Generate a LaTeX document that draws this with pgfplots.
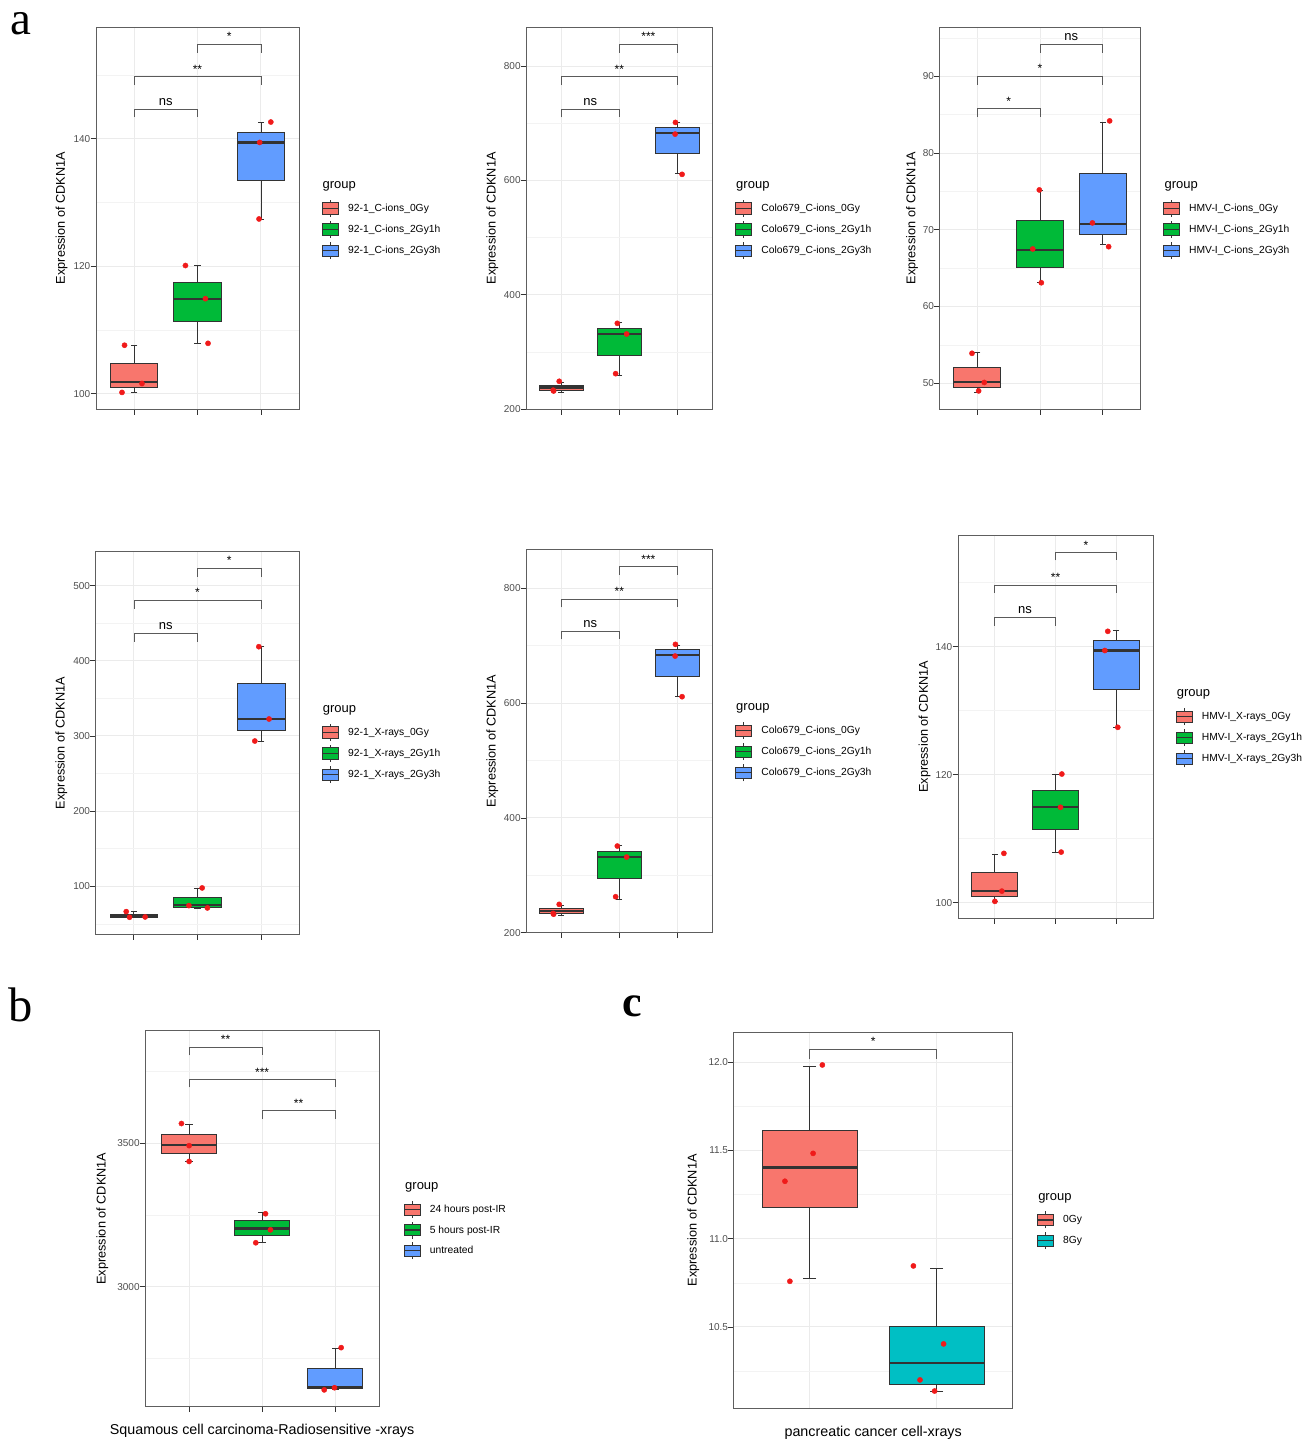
\documentclass[border=0pt]{standalone}
\usepackage{fontspec}
\setmainfont{Liberation Sans}
\newfontfamily\seriffont{Liberation Serif}
\usepackage{pgfplots}
\pgfplotsset{compat=1.18}

\definecolor{cR}{HTML}{F8766D}
\definecolor{cG}{HTML}{00BA38}
\definecolor{cB}{HTML}{619CFF}
\definecolor{cC}{HTML}{00BFC4}
\definecolor{boxline}{HTML}{333333}
\definecolor{ptred}{HTML}{F01A1A}
\definecolor{gridmaj}{HTML}{EBEBEB}
\definecolor{gridmin}{HTML}{F3F3F3}
\definecolor{framec}{HTML}{5E5E5E}
\definecolor{ticklab}{HTML}{4D4D4D}
\definecolor{brkc}{HTML}{5A5A5A}

\newcommand{\legcode}[1]{%
   \draw[boxline,line width=0.8pt] (8pt,-8.5pt)--(8pt,8.5pt);
   \draw[boxline,line width=0.8pt,fill=#1] (0pt,-5.6pt) rectangle (16pt,5.6pt);
   \draw[boxline,line width=1.3pt] (0pt,0pt)--(16pt,0pt);}

\pgfplotsset{
 legR/.style={legend image code/.code={\legcode{cR}}},
 legG/.style={legend image code/.code={\legcode{cG}}},
 legB/.style={legend image code/.code={\legcode{cB}}},
 legC/.style={legend image code/.code={\legcode{cC}}},
 ggbox/.style={
   scale only axis, clip=false, anchor=south west,
   axis line style={draw=framec, line width=0.9pt},
   xmin=0.4, xmax=3.6, xtick={1,2,3}, xticklabels={},
   xmajorgrids, ymajorgrids, yminorgrids,
   major grid style={draw=gridmaj, line width=1pt},
   minor grid style={draw=gridmin, line width=0.6pt},
   tick align=outside, tick pos=left,
   major tick length=5.5pt, minor tick length=0pt,
   tick style={draw=boxline, line width=0.8pt},
   /pgf/number format/assume math mode=true,
   /pgf/number format/1000 sep={},
   yticklabel style={font=\fontsize{10}{12}\selectfont, text=ticklab, anchor=east, inner sep=0pt},
   ylabel={Expression of CDKN1A},
   ylabel style={font=\fontsize{12.7}{14}\selectfont, anchor=center},
   xlabel style={font=\fontsize{14.3}{16}\selectfont, anchor=center},
   legend cell align=left,
   legend style={draw=none, fill=none, font=\fontsize{10.3}{12}\selectfont,
      anchor=north west, row sep=3.3pt, inner sep=0pt,
      nodes={inner sep=0pt},
      /tikz/every odd column/.style={column sep=9pt}},
 },
}

% #1 left, #2 centre, #3 right, #4 lower whisker, #5 Q1, #6 median, #7 Q3, #8 upper whisker, #9 fill
\newcommand{\gbox}[9]{%
 \addplot[forget plot, draw=boxline, line width=0.8pt] coordinates {(#2,#4)(#2,#5)};
 \addplot[forget plot, draw=boxline, line width=0.8pt] coordinates {(#2,#7)(#2,#8)};
 \addplot[forget plot, only marks, mark=-, mark size=\capsz, mark options={draw=boxline, line width=0.8pt}] coordinates {(#2,#4)(#2,#8)};
 \addplot[forget plot, draw=boxline, fill=#9, line width=0.8pt] coordinates {(#1,#5)(#3,#5)(#3,#7)(#1,#7)} -- cycle;
 \addplot[forget plot, draw=boxline, line width=2.3pt] coordinates {(#1,#6)(#3,#6)};}
\newcommand{\sig}[6]{%
 \addplot[forget plot, draw=brkc, line width=0.75pt] coordinates {(#1,#4)(#1,#5)(#2,#5)(#2,#4)};
 \node[anchor=base, font=\fontsize{12}{12}\selectfont, yshift=3.5pt] at (axis cs:#3,#5) {#6};}
\newcommand{\grp}[2]{\node[anchor=west, font=\fontsize{13}{13}\selectfont] at (axis description cs:#1,#2) {group};}
\newcommand{\pts}[1]{\addplot[forget plot, only marks, mark=*, mark size=2.6pt, color=ptred, mark options={draw=ptred, fill=ptred}] coordinates {#1};}
\newcommand{\ns}{\fontsize{13}{13}\selectfont ns}

\begin{document}
\begin{tikzpicture}
\path[use as bounding box] (0,0) rectangle (1315pt,-1441pt);

% ---------- panel 1 ----------
\def\capsz{3.2pt}
\begin{axis}[ggbox, at={(96pt,-409pt)}, width=203pt, height=382pt,
  ymin=97.6, ymax=157.5, ytick={100,120,140}, minor ytick={110,130,150},
  ylabel style={at={(axis description cs:-0.169,0.5)}},
  legend style={at={(axis description cs:1.1118,0.5492)}}]
\gbox{0.625}{1}{1.375}{100.2}{101.0}{101.8}{104.7}{107.6}{cR}
\gbox{1.625}{2}{2.375}{107.9}{111.4}{114.9}{117.5}{120.1}{cG}
\gbox{2.625}{3}{3.375}{127.4}{133.4}{139.4}{140.9}{142.5}{cB}
\pts{(0.81,100.2) (0.85,107.6) (1.125,101.6) (1.81,120.1) (2.125,114.9) (2.166,107.9) (3.156,142.6) (2.98,139.4) (2.97,127.4)}
\sig{1}{2}{1.5}{143.36}{144.66}{\ns}
\sig{1}{3}{2}{148.4}{149.7}{**}
\sig{2}{3}{2.5}{153.5}{154.8}{*}
\grp{1.0985}{0.5838}
\addlegendimage{legR}\addlegendentry{92-1\_C-ions\_0Gy}
\addlegendimage{legG}\addlegendentry{92-1\_C-ions\_2Gy1h}
\addlegendimage{legB}\addlegendentry{92-1\_C-ions\_2Gy3h}
\end{axis}

% ---------- panel 2 ----------
\def\capsz{2.9pt}
\begin{axis}[ggbox, at={(526.3pt,-409.3pt)}, width=186pt, height=382pt,
  ymin=200, ymax=867.7, ytick={200,400,600,800}, minor ytick={300,500,700},
  ylabel style={at={(axis description cs:-0.183,0.5)}},
  legend style={at={(axis description cs:1.122,0.550)}}]
\gbox{0.625}{1}{1.375}{229.7}{233.8}{237.9}{242.5}{246.8}{cR}
\gbox{1.625}{2}{2.375}{258.8}{295}{331.6}{341.5}{352}{cG}
\gbox{2.625}{3}{3.375}{611.8}{647.4}{683.5}{692.8}{701}{cB}
\pts{(0.966,249.0) (0.863,233.5) (0.87,232.0) (1.966,350.3) (2.126,331.6) (1.937,262.3) (2.966,701.5) (2.96,681) (3.08,610.7)}
\sig{1}{2}{1.5}{710.3}{724.8}{\ns}
\sig{1}{3}{2}{766.8}{781.3}{**}
\sig{2}{3}{2.5}{823.3}{837.8}{***}
\grp{1.1097}{0.5846}
\addlegendimage{legR}\addlegendentry{Colo679\_C-ions\_0Gy}
\addlegendimage{legG}\addlegendentry{Colo679\_C-ions\_2Gy1h}
\addlegendimage{legB}\addlegendentry{Colo679\_C-ions\_2Gy3h}
\end{axis}

% ---------- panel 3 ----------
\def\capsz{3.15pt}
\begin{axis}[ggbox, at={(939.7pt,-409.3pt)}, width=200.6pt, height=382pt,
  ymin=46.6, ymax=96.4, ytick={50,60,70,80,90}, minor ytick={55,65,75,85,95},
  ylabel style={at={(axis description cs:-0.138,0.5)}},
  legend style={at={(axis description cs:1.1117,0.550)}}]
\gbox{0.625}{1}{1.375}{48.83}{49.43}{50.17}{52.04}{54.04}{cR}
\gbox{1.625}{2}{2.375}{63.13}{65.13}{67.35}{71.26}{75.2}{cG}
\gbox{2.625}{3}{3.375}{68.13}{69.39}{70.74}{77.35}{84.0}{cB}
\pts{(0.915,53.9) (1.111,50.1) (1.021,49.0) (1.989,75.2) (1.884,67.5) (2.021,63.1) (3.111,84.2) (2.836,70.9) (3.095,67.8)}
\sig{1}{2}{1.5}{84.7}{85.78}{*}
\sig{1}{3}{2}{88.9}{90.0}{*}
\sig{2}{3}{2.5}{93.1}{94.2}{\ns}
\grp{1.1032}{0.5846}
\addlegendimage{legR}\addlegendentry{HMV-I\_C-ions\_0Gy}
\addlegendimage{legG}\addlegendentry{HMV-I\_C-ions\_2Gy1h}
\addlegendimage{legB}\addlegendentry{HMV-I\_C-ions\_2Gy3h}
\end{axis}

% ---------- panel 4 ----------
\def\capsz{3.2pt}
\begin{axis}[ggbox, at={(95.7pt,-934.3pt)}, width=203.6pt, height=382.6pt,
  ymin=36.1, ymax=545.2, ytick={100,200,300,400,500}, minor ytick={50,150,250,350,450},
  ylabel style={at={(axis description cs:-0.169,0.5)}},
  legend style={at={(axis description cs:1.110,0.5517)}}]
\gbox{0.625}{1}{1.375}{58.3}{59.2}{61.0}{63.2}{66.3}{cR}
\gbox{1.625}{2}{2.375}{70.7}{72.5}{75.2}{85.8}{97.8}{cG}
\gbox{2.625}{3}{3.375}{293.3}{308}{322.6}{370.5}{418.8}{cB}
\pts{(0.88,66.3) (0.932,58.8) (1.177,59.2) (2.073,97.8) (1.865,74.3) (2.156,71.2) (2.964,418.8) (3.125,322.6) (2.901,293.3)}
\sig{1}{2}{1.5}{425.5}{436.6}{\ns}
\sig{1}{3}{2}{469.4}{480.5}{*}
\sig{2}{3}{2.5}{512}{523.1}{*}
\grp{1.0982}{0.5855}
\addlegendimage{legR}\addlegendentry{92-1\_X-rays\_0Gy}
\addlegendimage{legG}\addlegendentry{92-1\_X-rays\_2Gy1h}
\addlegendimage{legB}\addlegendentry{92-1\_X-rays\_2Gy3h}
\end{axis}

% ---------- panel 5 ----------
\def\capsz{2.9pt}
\begin{axis}[ggbox, at={(526.3pt,-932.7pt)}, width=186pt, height=383.4pt,
  ymin=200, ymax=868, ytick={200,400,600,800}, minor ytick={300,500,700},
  ylabel style={at={(axis description cs:-0.183,0.5)}},
  legend style={at={(axis description cs:1.122,0.5509)}}]
\gbox{0.625}{1}{1.375}{229.7}{233.8}{237.9}{242.5}{246.8}{cR}
\gbox{1.625}{2}{2.375}{258.8}{295}{331.6}{341.5}{352}{cG}
\gbox{2.625}{3}{3.375}{611.8}{647.4}{683.5}{692.8}{701}{cB}
\pts{(0.966,249.4) (0.863,233.7) (0.87,232.2) (1.966,351) (2.126,331.8) (1.937,262.7) (2.966,702.4) (2.96,682) (3.08,611.2)}
\sig{1}{2}{1.5}{711.1}{725.6}{\ns}
\sig{1}{3}{2}{766.9}{781.4}{**}
\sig{2}{3}{2.5}{823.2}{837.7}{***}
\grp{1.1097}{0.5842}
\addlegendimage{legR}\addlegendentry{Colo679\_C-ions\_0Gy}
\addlegendimage{legG}\addlegendentry{Colo679\_C-ions\_2Gy1h}
\addlegendimage{legB}\addlegendentry{Colo679\_C-ions\_2Gy3h}
\end{axis}

% ---------- panel 6 ----------
\def\capsz{3.05pt}
\begin{axis}[ggbox, at={(958pt,-918.3pt)}, width=195pt, height=383.3pt,
  ymin=97.55, ymax=157.45, ytick={100,120,140}, minor ytick={110,130,150},
  ylabel style={at={(axis description cs:-0.171,0.5)}},
  legend style={at={(axis description cs:1.1144,0.55)}}]
\gbox{0.625}{1}{1.375}{100.2}{101.0}{101.8}{104.7}{107.6}{cR}
\gbox{1.625}{2}{2.375}{107.9}{111.4}{114.9}{117.5}{120.1}{cG}
\gbox{2.625}{3}{3.375}{127.4}{133.4}{139.4}{141.0}{142.5}{cB}
\pts{(1.153,107.7) (1.12,101.8) (1.005,100.2) (2.104,120.1) (2.082,114.9) (2.093,107.9) (2.858,142.4) (2.809,139.4) (3.022,127.4)}
\sig{1}{2}{1.5}{143.3}{144.6}{\ns}
\sig{1}{3}{2}{148.4}{149.6}{**}
\sig{2}{3}{2.5}{153.5}{154.7}{*}
\grp{1.104}{0.5844}
\addlegendimage{legR}\addlegendentry{HMV-I\_X-rays\_0Gy}
\addlegendimage{legG}\addlegendentry{HMV-I\_X-rays\_2Gy1h}
\addlegendimage{legB}\addlegendentry{HMV-I\_X-rays\_2Gy3h}
\end{axis}

% ---------- panel b ----------
\def\capsz{3.65pt}
\begin{axis}[ggbox, at={(145.3pt,-1406.7pt)}, width=233.7pt, height=376pt,
  ymin=2582.4, ymax=3891, ytick={3000,3500}, minor ytick={2750,3250,3750},
  ylabel style={at={(axis description cs:-0.184,0.5)}},
  xlabel={Squamous cell carcinoma-Radiosensitive -xrays},
  xlabel style={at={(axis description cs:0.5,-0.0638)}},
  legend style={at={(axis description cs:1.104,0.5484)}, row sep=2.65pt}]
\gbox{0.625}{1}{1.375}{3436}{3464}{3493}{3529}{3565}{cR}
\gbox{1.625}{2}{2.375}{3153}{3177.5}{3203}{3229.7}{3257.5}{cG}
\gbox{2.625}{3}{3.375}{2643}{2646}{2651}{2717}{2784}{cB}
\pts{(0.895,3568) (1.0,3491) (1.0,3436) (2.046,3254) (2.114,3198) (1.913,3153) (3.082,2788) (2.991,2648.5) (2.85,2641)}
\sig{1}{2}{1.5}{3805}{3833}{**}
\sig{1}{3}{2}{3694}{3720}{***}
\sig{2}{3}{2.5}{3583.5}{3612.5}{**}
\grp{1.097}{0.5835}
\addlegendimage{legR}\addlegendentry{24 hours post-IR}
\addlegendimage{legG}\addlegendentry{5 hours post-IR}
\addlegendimage{legB}\addlegendentry{untreated}
\end{axis}

% ---------- panel c ----------
\def\capsz{6.4pt}
\begin{axis}[ggbox, at={(733.7pt,-1408.3pt)}, width=279pt, height=376pt,
  xmin=0.4, xmax=2.6, xtick={1,2}, xtick style={draw=none},
  ymin=10.039, ymax=12.17, ytick={10.5,11,11.5,12}, minor ytick={10.25,10.75,11.25,11.75},
  yticklabel style={/pgf/number format/.cd, fixed, fixed zerofill, precision=1},
  ylabel style={at={(axis description cs:-0.145,0.5)}},
  xlabel={pancreatic cancer cell-xrays},
  xlabel style={at={(axis description cs:0.5,-0.0638)}},
  legend style={at={(axis description cs:1.086,0.5253)}, row sep=3pt}]
\gbox{0.625}{1}{1.375}{10.774}{11.18}{11.403}{11.613}{11.979}{cR}
\gbox{1.625}{2}{2.375}{10.134}{10.175}{10.294}{10.504}{10.832}{cC}
\pts{(1.099,11.985) (1.026,11.484) (0.804,11.326) (0.843,10.759) (1.817,10.846) (2.055,10.404) (1.869,10.2) (1.984,10.137)}
\sig{1}{2}{1.5}{12.017}{12.074}{*}
\grp{1.0789}{0.5574}
\addlegendimage{legR}\addlegendentry{0Gy}
\addlegendimage{legC}\addlegendentry{8Gy}
\end{axis}

% panel letters
\node[font=\seriffont\fontsize{47}{47}\selectfont] at (21pt,-24pt) {a};
\node[font=\seriffont\fontsize{48.5}{48.5}\selectfont] at (20.8pt,-1005pt) {b};
\node[font=\seriffont\bfseries\fontsize{44}{44}\selectfont] at (632.5pt,-1006.7pt) {c};
\end{tikzpicture}
\end{document}
